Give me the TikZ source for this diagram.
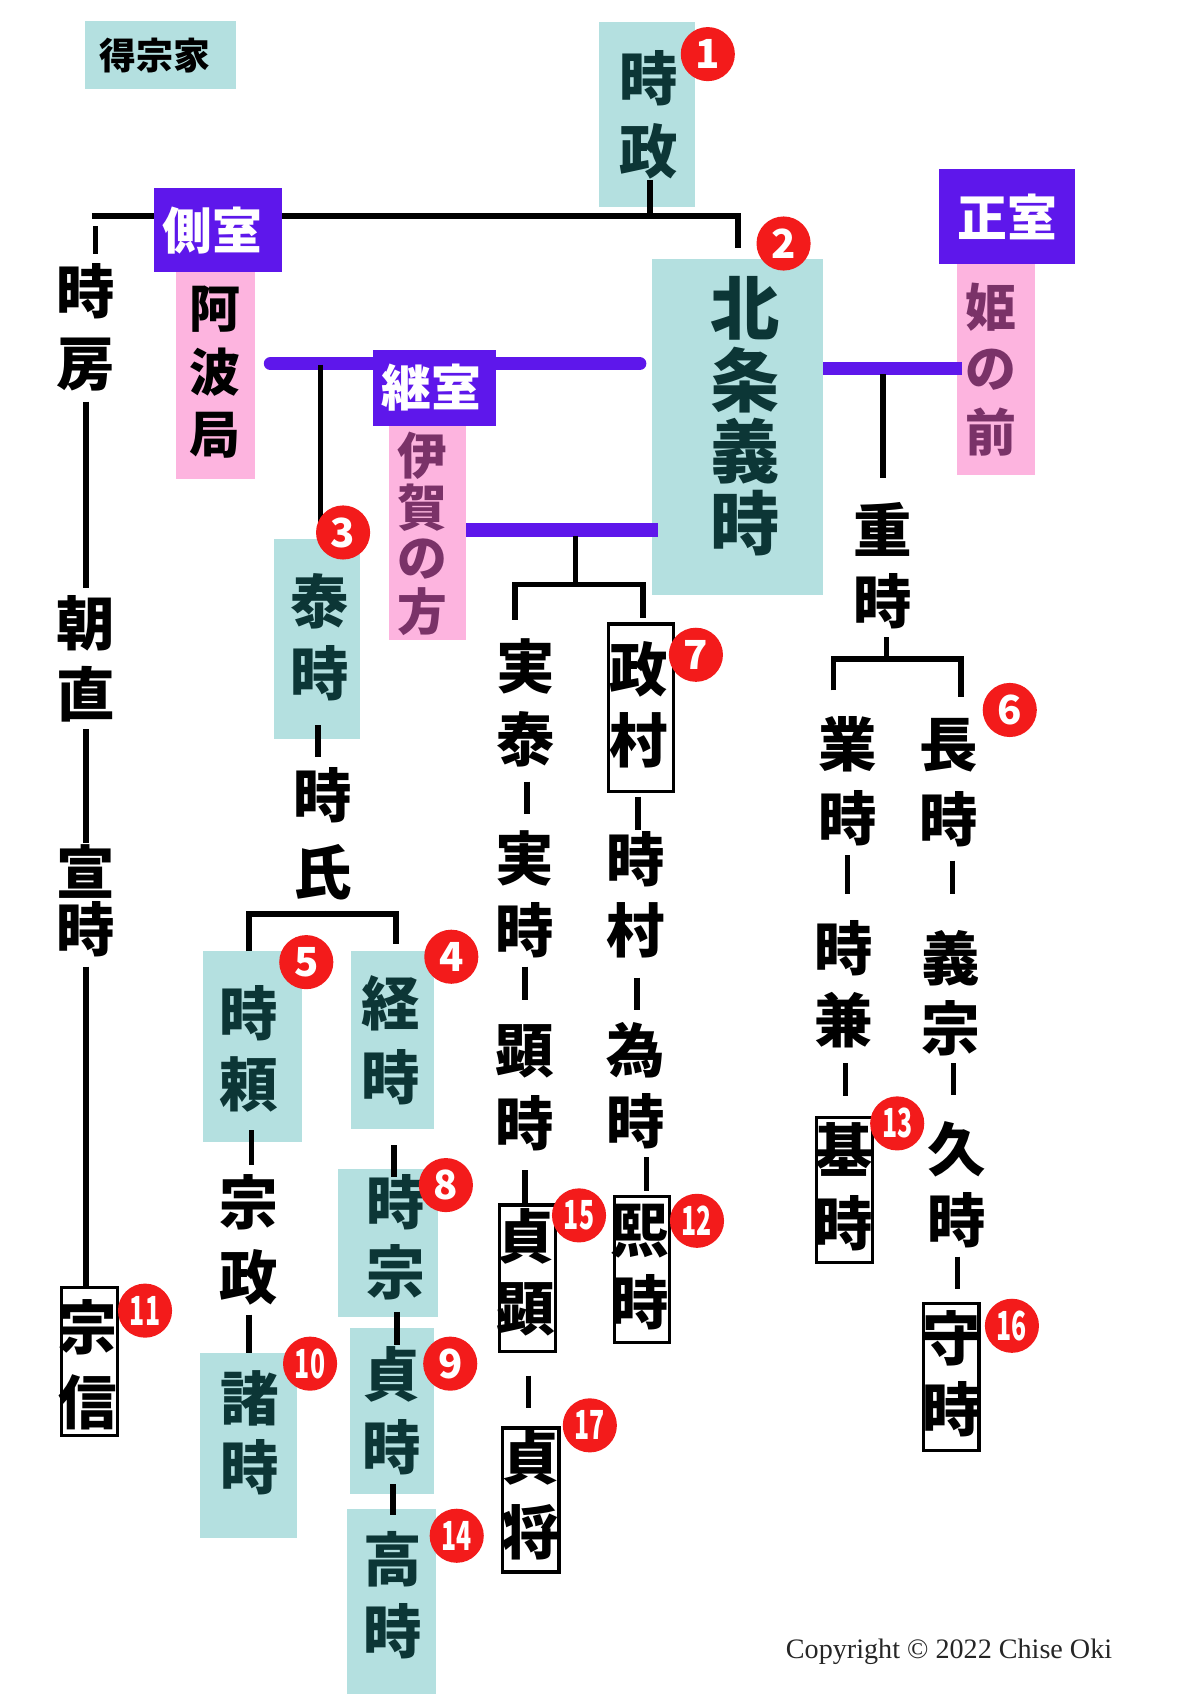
\documentclass[tikz,border=0pt]{standalone}
\usepackage{fontspec}
\usepackage{graphicx}
\usetikzlibrary{calc}
\newfontfamily\jp{Noto Sans CJK JP}
\newfontfamily\serifc{Liberation Serif}
\XeTeXuseglyphmetrics=1
\definecolor{tealbg}{HTML}{B4E0E0}
\definecolor{tealtx}{HTML}{0C3636}
\definecolor{pinkbg}{HTML}{FDB4DF}
\definecolor{pinktx}{HTML}{7A3268}
\definecolor{purp}{HTML}{5E17EB}
\definecolor{badgered}{HTML}{F31B1B}
\newdimen\vcshift
\makeatletter
\newcommand\Vst[2]{\vbox{\offinterlineskip\@tfor\vch:=#2\do{\vbox to #1{\vss\hbox to 1.2em{\hss\vch\hss}\vss}}}}
\makeatother
\newcommand\VC[4]{\setbox0=\Vst{#1}{#4}\vcshift=\dimexpr#3-0.5\ht0\relax\makebox[0pt]{\kern#2\kern#2\raisebox{\vcshift}[0pt][0pt]{\box0}}}
\newcommand\HC[2]{\makebox[0pt]{\kern#1\kern#1#2}}
\pgfdeclarelayer{bgl}
\pgfdeclarelayer{midl}
\pgfsetlayers{bgl,midl,main}
\begin{document}
\begin{tikzpicture}[x=1pt,y=-1pt,
  lnk/.style={line width=5pt,draw=black},
  purl/.style={line width=12.5pt,draw=purp},
  nmtxt/.style={inner sep=0pt,font=\jp\bfseries\fontsize{54}{54}\selectfont,text=black,minimum width=54pt},
  tealbox/.style={fill=tealbg,inner sep=0pt,font=\jp\bfseries\fontsize{54}{54}\selectfont,text=tealtx},
  pinkbox/.style={fill=pinkbg,inner sep=0pt,font=\jp\bfseries\fontsize{47}{47}\selectfont,text=pinktx},
  purpbox/.style={fill=purp,inner sep=0pt,text=white,font=\jp\bfseries\fontsize{46}{46}\selectfont},
  frmbox/.style={draw=black,line width=3pt,fill=white,inner sep=0pt,font=\jp\bfseries\fontsize{54}{54}\selectfont},
  badge/.style={circle,fill=badgered,inner sep=0pt,minimum size=50pt,text=white,font=\jp\bfseries\fontsize{37}{37}\selectfont}]
\useasboundingbox (0,0) rectangle (1109,1568);

% ---------- filled name boxes (background layer)
\begin{pgfonlayer}{bgl}
\fill[white] (0,0) rectangle (1109,1568);
\node[tealbox,minimum width=139.5pt,minimum height=63pt,text=black,font=\jp\bfseries\fontsize{34}{34}\selectfont] (tokuso) at (148.25,51) {\HC{-5pt}{得宗家}};
\node[tealbox,minimum width=88.5pt,minimum height=171pt] (tokimasa) at (597.75,105.5) {\VC{67.5pt}{1.75pt}{-0.75pt}{時政}};
\node[tealbox,minimum width=158.2pt,minimum height=310.5pt,font=\jp\bfseries\fontsize{64}{64}\selectfont] (yoshitoki) at (681.6,394.75) {\VC{66.3pt}{6.9pt}{10.75pt}{北条義時}};
\node[tealbox,minimum width=80pt,minimum height=185pt] (yasutoki) at (293,590.5) {\VC{66pt}{2pt}{1.5pt}{泰時}};
\node[tealbox,minimum width=91pt,minimum height=176pt] (tokiyori) at (233.5,967) {\VC{66pt}{-3.5pt}{-2pt}{時頼}};
\node[tealbox,minimum width=77pt,minimum height=164pt] (tsunetoki) at (362.5,961) {\VC{68pt}{-1.5pt}{0pt}{経時}};
\node[tealbox,minimum width=93pt,minimum height=137pt] (tokimune) at (358.5,1148.5) {\VC{65pt}{7.5pt}{5pt}{時宗}};
\node[tealbox,minimum width=78pt,minimum height=153pt] (sadatoki) at (362,1303.5) {\VC{67pt}{0pt}{0pt}{貞時}};
\node[tealbox,minimum width=82pt,minimum height=171pt] (takatoki) at (362,1479.5) {\VC{66pt}{1pt}{5.5pt}{高時}};
\node[tealbox,minimum width=89pt,minimum height=171pt] (morotoki) at (229.5,1335.5) {\VC{63.5pt}{1.5pt}{11.5pt}{諸時}};
\node[pinkbox,minimum width=73pt,minimum height=191.5pt,text=black] (awa) at (199.5,347.25) {\VC{58.5pt}{-0.5pt}{3.25pt}{阿波局}};
\node[pinkbox,minimum width=72pt,minimum height=197pt,font=\jp\bfseries\fontsize{46}{46}\selectfont] (iga) at (395,492.5) {\VC{48pt}{-5pt}{-0.5pt}{伊賀の方}};
\node[pinkbox,minimum width=72pt,minimum height=195pt] (hime) at (920,341.5) {\VC{57.5pt}{-4pt}{0pt}{姫の前}};
\end{pgfonlayer}

% ---------- labels of the wives
\node[purpbox,minimum width=118.4pt,minimum height=77.6pt] (sokushitsu) at (201.5,212.8) {\HC{-5pt}{側室}};
\node[purpbox,minimum width=113pt,minimum height=71pt] (keishitsu) at (401.5,358.5) {\HC{-3pt}{継室}};
\node[purpbox,minimum width=125pt,minimum height=88pt] (seishitsu) at (930.5,200) {正室};

% ---------- plain names
\node[nmtxt,minimum height=136pt] (tokifusa) at (79.5,303) {\VC{68pt}{0pt}{0pt}{時房}};
\node[nmtxt,minimum height=130pt] (tomonao) at (79.5,608.5) {\VC{65pt}{0pt}{0pt}{朝直}};
\node[nmtxt,minimum height=106pt] (nobutoki) at (79.5,832) {\VC{53pt}{0pt}{0pt}{宣時}};
\node[nmtxt,minimum height=142pt] (tokiuji) at (298.5,770.5) {\VC{71pt}{0pt}{0pt}{時氏}};
\node[nmtxt,minimum height=138pt] (munemasa) at (230,1145.5) {\VC{69pt}{0pt}{0pt}{宗政}};
\node[nmtxt,minimum height=134pt] (saneyasu) at (485.5,649.5) {\VC{67pt}{0pt}{0pt}{実泰}};
\node[nmtxt,minimum height=132pt] (sanetoki) at (485,826.5) {\VC{66pt}{0pt}{0pt}{実時}};
\node[nmtxt,minimum height=134pt] (akitoki) at (485,1004.5) {\VC{67pt}{0pt}{0pt}{顕時}};
\node[nmtxt,minimum height=132pt] (tokimura) at (587,827) {\VC{66pt}{0pt}{0pt}{時村}};
\node[nmtxt,minimum height=132pt] (tametoki) at (587,1003) {\VC{66pt}{0pt}{0pt}{為時}};
\node[nmtxt,minimum height=133pt] (shigetoki) at (816,522) {\VC{66.5pt}{0pt}{0pt}{重時}};
\node[nmtxt,minimum height=136pt] (narutoki) at (783,722) {\VC{68pt}{0pt}{0pt}{業時}};
\node[nmtxt,minimum height=134pt] (tokikane) at (780,909.5) {\VC{67pt}{0pt}{0pt}{時兼}};
\node[nmtxt,minimum height=136pt] (nagatoki) at (877,723) {\VC{68pt}{0pt}{0pt}{長時}};
\node[nmtxt,minimum height=130pt] (yoshimune) at (878,917.5) {\VC{65pt}{0pt}{0pt}{義宗}};
\node[nmtxt,minimum height=130pt] (hisatoki) at (884,1094.5) {\VC{65pt}{0pt}{0pt}{久時}};

% ---------- framed names
\node[frmbox,minimum width=52pt,minimum height=137pt] (munenobu) at (82.5,1258) {\VC{68.5pt}{-1pt}{-3pt}{宗信}};
\node[frmbox,minimum width=60pt,minimum height=155pt] (masamura) at (592.5,654) {\VC{66pt}{-2.5pt}{3pt}{政村}};
\node[frmbox,minimum width=51pt,minimum height=135pt] (hirotoki) at (593,1173) {\VC{65pt}{-1.5pt}{2.5pt}{熙時}};
\node[frmbox,minimum width=52pt,minimum height=134pt] (motoki) at (780.5,1099.5) {\VC{68pt}{-0.5pt}{3.5pt}{基時}};
\node[frmbox,minimum width=52pt,minimum height=135pt] (sadaaki) at (487.5,1181) {\VC{68pt}{-1.5pt}{5pt}{貞顕}};
\node[frmbox,minimum width=52pt,minimum height=133pt] (sadayuki) at (490.5,1386) {\VC{69pt}{-0.5pt}{4.5pt}{貞将}};
\node[frmbox,minimum width=51pt,minimum height=136pt] (moritoki) at (879,1272.5) {\VC{65pt}{0pt}{3pt}{守時}};

% ---------- number badges
\node[badge] (n1) at (654,50) {1};
\node[badge] (n2) at (724,225) {2};
\node[badge] (n3) at (317,492) {3};
\node[badge] (n4) at (417,884) {4};
\node[badge] (n5) at (283,889) {5};
\node[badge] (n6) at (933,656) {6};
\node[badge] (n7) at (643,605) {7};
\node[badge] (n8) at (412,1095) {8};
\node[badge] (n9) at (416,1260) {9};
\node[badge] (n10) at (286.5,1260) {\scalebox{0.62}[1]{10}};
\node[badge] (n11) at (134,1211) {\scalebox{0.62}[1]{11}};
\node[badge] (n12) at (644,1128) {\scalebox{0.62}[1]{12}};
\node[badge] (n13) at (829,1038) {\scalebox{0.62}[1]{13}};
\node[badge] (n14) at (422,1419) {\scalebox{0.62}[1]{14}};
\node[badge] (n15) at (535,1123) {\scalebox{0.62}[1]{15}};
\node[badge] (n16) at (935,1225) {\scalebox{0.62}[1]{16}};
\node[badge] (n17) at (545,1317) {\scalebox{0.62}[1]{17}};

\node[anchor=base west,inner sep=0pt,font=\serifc\fontsize{26}{26}\selectfont,text=black!85] (copy) at (726,1532) {Copyright © 2022 Chise Oki};

% ---------- connectors
\begin{pgfonlayer}{midl}
% children of Tokimasa
\coordinate (tA) at (600.5,199.6);
\coordinate (tL) at (85,199.6);
\coordinate (tR) at (682,199.6);
\coordinate (tk) at (88,209);
\draw[lnk] ($(tokimasa.south -| tA)+(0,-25)$) -- (tA);
\draw[lnk] (tL) -- (tR) -- ($(yoshitoki.north -| tR)+(0,-10.5)$);
\draw[lnk] (tk) -- (tk |- tokifusa.north);
% Tokifusa line
\draw[lnk] (tokifusa.south) -- (tokifusa.south |- tomonao.north);
\draw[lnk] (tomonao.south) -- (tomonao.south |- nobutoki.north);
\draw[lnk] ($(nobutoki.south)+(0,8)$) -- (nobutoki.south |- munenobu.north);
% marriage with Awa no Tsubone
\coordinate (p1a) at (250,336);
\coordinate (p1b) at (591,336);
\draw[purl,line cap=round] (p1a) -- (p1b);
\coordinate (m1) at (296,337);
\draw[lnk] (m1) -- (m1 |- yasutoki.north);
\draw[lnk] ($(yasutoki.south)+(1,-13)$) -- ($(yasutoki.south |- tokiuji.north)+(1,0)$);
\coordinate (bT) at (298.5,844.6);
\coordinate (bL) at (230,844.6);
\coordinate (bR) at (366,844.6);
\draw[lnk] (tokiuji.south) -- (bT);
\draw[lnk] (bL |- tokiyori.north) -- (bL) -- (bR) -- ($(bR |- tsunetoki.north)+(0,-7)$);
\draw[lnk] ($(tokiyori.south)+(-1,-11)$) -- ($(tokiyori.south |- munemasa.north)+(-1,0)$);
\draw[lnk] (munemasa.south) -- (munemasa.south |- morotoki.north);
\draw[lnk] ($(tsunetoki.south)+(1.5,15)$) -- ($(tsunetoki.south |- tokimune.north)+(1.5,8)$);
\draw[lnk] ($(tokimune.south)+(8.5,-5)$) -- ($(tokimune.south |- sadatoki.north)+(8.5,16)$);
\draw[lnk] ($(sadatoki.south)+(1,-9)$) -- ($(sadatoki.south |- takatoki.north)+(1,6)$);
% marriage with Iga no Kata
\coordinate (p2a) at (431,489.5);
\coordinate (p2b) at (608,489.5);
\draw[purl] (p2a) -- (p2b);
\coordinate (m2) at (532,495);
\coordinate (b2) at (532,540);
\coordinate (b2L) at (476,540);
\coordinate (b2R) at (594,540);
\draw[lnk] (m2) -- (b2);
\draw[lnk] ($(b2L |- saneyasu.north)+(0,-9.5)$) -- (b2L) -- (b2R) -- ($(b2R |- masamura.north)+(0,-4)$);
\draw[lnk] ($(saneyasu.south)+(1.5,5.5)$) -- ($(saneyasu.south |- sanetoki.north)+(1.5,-8.5)$);
\draw[lnk] ($(sanetoki.south)+(0,0.5)$) -- ($(sanetoki.south |- akitoki.north)+(0,-13.5)$);
\draw[lnk] ($(akitoki.south)+(0,9.5)$) -- (akitoki.south |- sadaaki.north);
\draw[lnk] ($(sadaaki.south)+(1,21)$) -- ($(sadaaki.south |- sadayuki.north)+(1,-17)$);
\draw[lnk] ($(masamura.south)+(-3,3)$) -- ($(masamura.south |- tokimura.north)+(-3,6)$);
\draw[lnk] ($(tokimura.south)+(1.5,10)$) -- ($(tokimura.south |- tametoki.north)+(1.5,-4)$);
\draw[lnk] ($(tametoki.south)+(10.5,0)$) -- ($(tametoki.south |- hirotoki.north)+(10.5,-4)$);
% marriage with Hime no Mae
\coordinate (p3a) at (760.7,340.5);
\coordinate (p3b) at (889,340.5);
\draw[purl] (p3a) -- (p3b);
\coordinate (m3) at (816,346);
\draw[lnk] (m3) -- ($(m3 |- shigetoki.north)+(0,-13.5)$);
\coordinate (b3) at (819,609);
\coordinate (b3L) at (770,609);
\coordinate (b3R) at (888,609);
\draw[lnk] (shigetoki.south -| b3) -- (b3);
\draw[lnk] ($(b3L |- narutoki.north)+(0,-16)$) -- (b3L) -- (b3R) -- ($(b3R |- nagatoki.north)+(0,-11)$);
\draw[lnk] (narutoki.south) -- ($(narutoki.south |- tokikane.north)+(0,-16.5)$);
\draw[lnk] ($(tokikane.south)+(1,5.5)$) -- ($(tokikane.south |- motoki.north)+(1,-18)$);
\draw[lnk] ($(nagatoki.south)+(3,4)$) -- ($(nagatoki.south |- yoshimune.north)+(3,-26.5)$);
\draw[lnk] ($(yoshimune.south)+(3,-0.5)$) -- ($(yoshimune.south |- hisatoki.north)+(3,-17.5)$);
\draw[lnk] ($(hisatoki.south)+(0.5,1.5)$) -- ($(hisatoki.south |- moritoki.north)+(0.5,-12)$);
\end{pgfonlayer}
\end{tikzpicture}
\end{document}
